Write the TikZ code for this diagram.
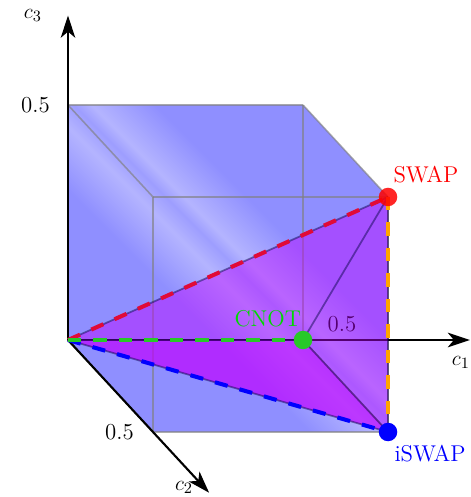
\documentclass[tikz,border=0pt]{standalone}
\usepackage{amsmath}
\usepackage{xcolor}
\usepackage{tikz}
\usetikzlibrary{arrows.meta,positioning}
\definecolor{cubeblue}{RGB}{143,143,255}
\definecolor{cubelight}{RGB}{180,180,255}
\definecolor{tetpurple}{RGB}{193,0,255}
\definecolor{swapred}{RGB}{225,10,55}
\definecolor{cnotgreen}{RGB}{40,200,40}
\definecolor{edgeorange}{RGB}{255,165,0}
\pgfdeclarehorizontalshading{cubegloss}{100bp}{color(0bp)=(cubeblue); color(41bp)=(cubeblue); color(48bp)=(cubelight); color(51bp)=(cubeblue!60!cubelight); color(53bp)=(cubelight); color(60bp)=(cubeblue); color(100bp)=(cubeblue)}
\tikzset{
  axis/.style={-{Stealth[length=4.4mm,width=2.9mm,inset=1.2mm]},line width=1.2pt},
  cubeedge/.style={draw=gray,line width=0.9pt,opacity=0.65},
  tetface/.style={fill=tetpurple,fill opacity=0.44},
  tetedge/.style={draw=black!75!blue,line width=1pt,opacity=0.45},
  gateline/.style={dash pattern=on 7.5pt off 7pt,line width=2.3pt},
  gatept/.style={circle,inner sep=0pt,minimum size=0.37cm}
}

\begin{document}
\begin{tikzpicture}[x={(9.4cm,0cm)},y={(3.4cm,-3.68cm)},z={(0cm,9.4cm)},
    every node/.style={font=\fontsize{13}{15.5}\selectfont}]
  \useasboundingbox (-1.36cm,-3.14cm) rectangle (8.06cm,6.8cm);

  % cube corners
  \coordinate (O) at (0,0,0);
  \coordinate (A) at (0.5,0,0);
  \coordinate (B) at (0.5,0.5,0);
  \coordinate (C) at (0,0.5,0);
  \coordinate (D) at (0,0,0.5);
  \coordinate (E) at (0.5,0,0.5);
  \coordinate (F) at (0.5,0.5,0.5);
  \coordinate (G) at (0,0.5,0.5);
  % axis ends
  \coordinate (c1end) at (0.855,0,0);
  \coordinate (c2end) at (0,0.83,0);
  \coordinate (c3end) at (0,0,0.69);

  % cube
  \shade[shading=cubegloss,shading angle=45] (O) -- (D) -- (E) -- (F) -- (B) -- (C) -- cycle;
  \foreach \p/\q in {O/A,A/B,B/C,C/O,D/E,E/F,F/G,G/D,O/D,A/E,B/F,C/G}{
    \draw[cubeedge] (\p) -- (\q);
  }

  % axes
  \draw[axis] (O) -- (c1end);
  \draw[axis] (O) -- (c2end);
  \draw[axis] (O) -- (c3end);
  \node[below=0.2cm,xshift=-0.18cm] (c1lab) at (c1end) {$c_1$};
  \node[left=0.2cm,yshift=0.1cm] (c2lab) at (c2end) {$c_2$};
  \node[left=0.4cm] (c3lab) at (c3end) {$c_3$};
  \node[above right=0.04cm and 0.37cm] (tick1) at (A) {0.5};
  \node[left=0.26cm] (tick2) at (C) {0.5};
  \node[left=0.24cm] (tick3) at (D) {0.5};

  % Weyl chamber part
  \fill[tetface] (O) -- (F) -- (B) -- cycle;
  \fill[tetface] (O) -- (A) -- (B) -- cycle;
  \foreach \p/\q in {O/F,O/B,F/B,A/F,A/B,O/A}{
    \draw[tetedge] (\p) -- (\q);
  }
  \draw[gateline,draw=swapred] (O) -- (F);
  \draw[gateline,draw=blue] (O) -- (B);
  \draw[gateline,draw=cnotgreen] (O) -- (A);
  \draw[gateline,draw=edgeorange] (F) -- (B);

  % gates
  \node[gatept,fill=red,opacity=0.85] (swap) at (F) {};
  \node[gatept,fill=blue] (iswap) at (B) {};
  \node[gatept,fill=cnotgreen] (cnot) at (A) {};
  \node[above right=0.02cm and -0.15cm,text=red] (swaplab) at (swap.north east) {SWAP};
  \node[below right=0.0cm and -0.13cm,text=blue] (iswaplab) at (iswap.south east) {iSWAP};
  \node[above left=0.01cm and -0.22cm,text=green!85!black] (cnotlab) at (cnot.north west) {CNOT};
\end{tikzpicture}
\end{document}
